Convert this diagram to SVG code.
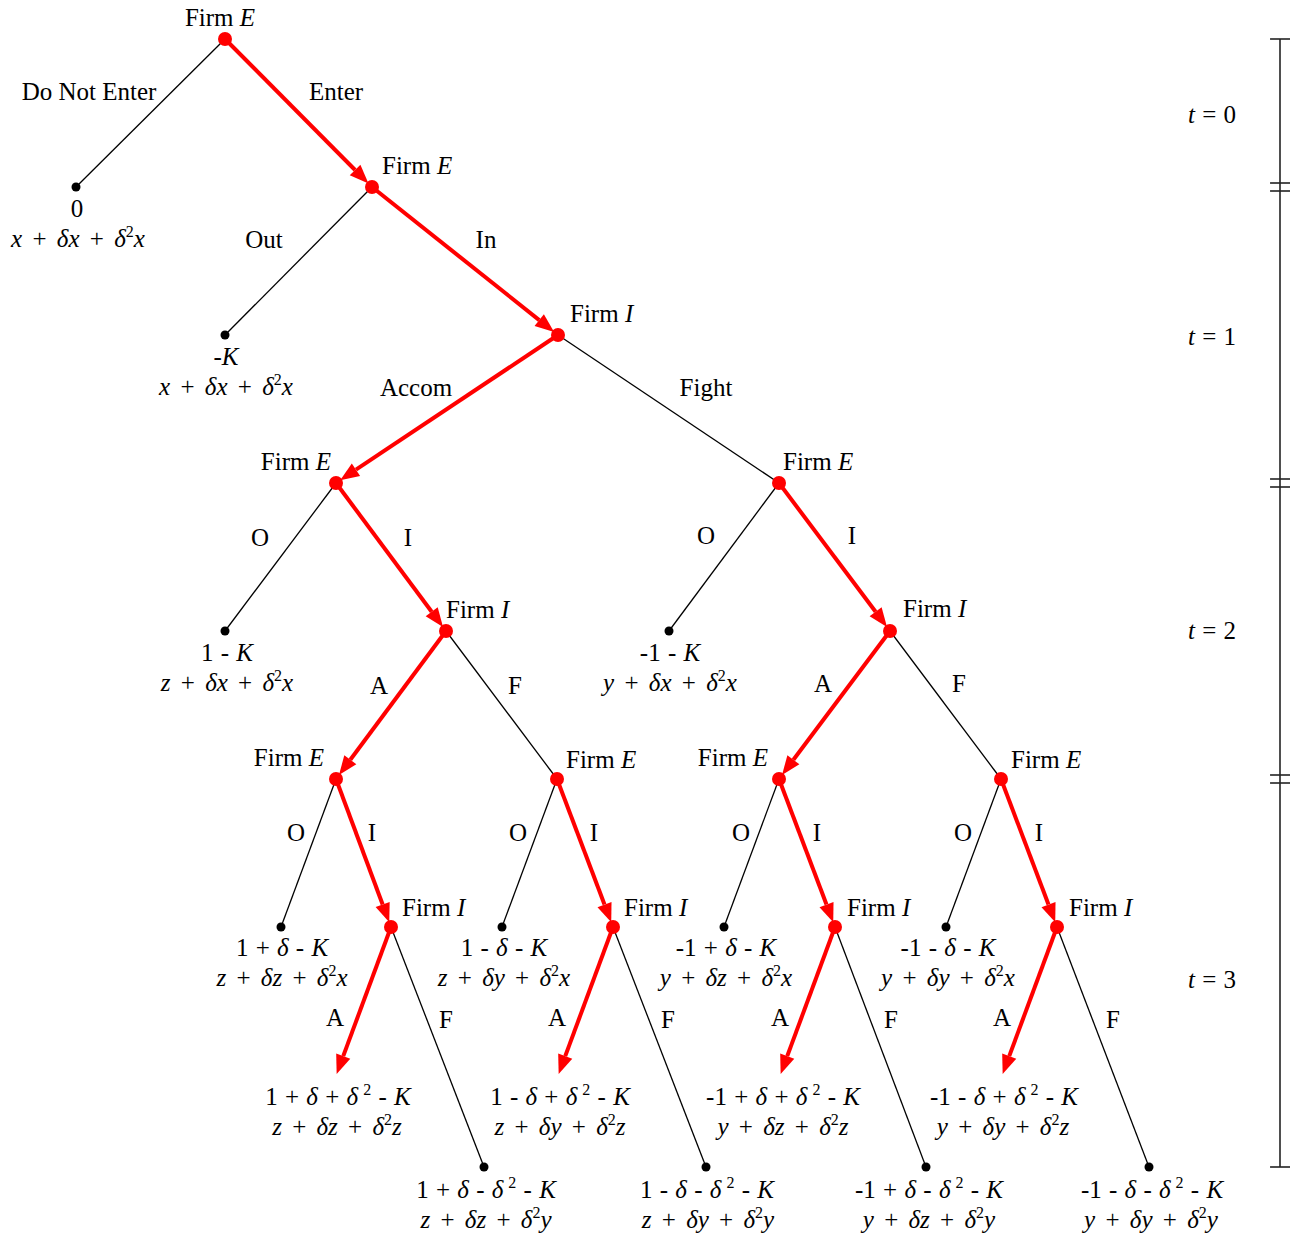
<svg xmlns="http://www.w3.org/2000/svg" width="1297" height="1235" viewBox="0 0 1297 1235">
<style>
text{font-family:"Liberation Serif","DejaVu Serif",serif;font-size:25px;fill:#000}
.m{text-anchor:middle}
.e{text-anchor:end}
.i{font-style:italic}
.s{font-size:16px}
.p1{word-spacing:1px}
.p2{word-spacing:4px}
.red{stroke:#ff0000;stroke-width:4;fill:none}
.blk{stroke:#000;stroke-width:1.3;fill:none}
.rn{fill:#ff0000}
.bn{fill:#000}
.tl{stroke:#222;stroke-width:1.6;fill:none}
</style>
<defs>
<marker id="ah" markerUnits="userSpaceOnUse" markerWidth="20" markerHeight="16" refX="0" refY="7.5" orient="auto" overflow="visible">
<path d="M0,0 L19,7.5 L0,15 z" fill="#ff0000"/>
</marker>
</defs>
<rect width="1297" height="1235" fill="#fff"/>
<g id="connectors">
<line class="blk" x1="225" y1="39" x2="76" y2="187"/>
<line class="blk" x1="372" y1="187" x2="225" y2="335"/>
<line class="blk" x1="558" y1="335" x2="779" y2="483"/>
<line class="blk" x1="336" y1="483" x2="225" y2="631"/>
<line class="blk" x1="779" y1="483" x2="669" y2="631"/>
<line class="blk" x1="446" y1="631" x2="557" y2="779"/>
<line class="blk" x1="890" y1="631" x2="1001" y2="779"/>
<line class="blk" x1="336" y1="779" x2="281" y2="927"/>
<line class="blk" x1="557" y1="779" x2="502" y2="927"/>
<line class="blk" x1="779" y1="779" x2="724" y2="927"/>
<line class="blk" x1="1001" y1="779" x2="946" y2="927"/>
<line class="blk" x1="391" y1="927" x2="484" y2="1167"/>
<line class="blk" x1="613" y1="927" x2="706" y2="1167"/>
<line class="blk" x1="835" y1="927" x2="926" y2="1167"/>
<line class="blk" x1="1057" y1="927" x2="1149" y2="1167"/>
<line class="red" marker-end="url(#ah)" x1="225" y1="39" x2="355.09" y2="169.97"/>
<line class="red" marker-end="url(#ah)" x1="372" y1="187" x2="539.22" y2="320.06"/>
<line class="red" marker-end="url(#ah)" x1="558" y1="335" x2="355.97" y2="469.69"/>
<line class="red" marker-end="url(#ah)" x1="336" y1="483" x2="431.68" y2="611.74"/>
<line class="red" marker-end="url(#ah)" x1="779" y1="483" x2="875.6" y2="611.8"/>
<line class="red" marker-end="url(#ah)" x1="446" y1="631" x2="350.32" y2="759.74"/>
<line class="red" marker-end="url(#ah)" x1="890" y1="631" x2="793.4" y2="759.8"/>
<line class="red" marker-end="url(#ah)" x1="336" y1="779" x2="382.64" y2="904.5"/>
<line class="red" marker-end="url(#ah)" x1="557" y1="779" x2="604.51" y2="904.55"/>
<line class="red" marker-end="url(#ah)" x1="779" y1="779" x2="826.51" y2="904.55"/>
<line class="red" marker-end="url(#ah)" x1="1001" y1="779" x2="1048.51" y2="904.55"/>
<line class="red" marker-end="url(#ah)" x1="391" y1="927" x2="343.24" y2="1056.12"/>
<line class="red" marker-end="url(#ah)" x1="613" y1="927" x2="565.24" y2="1056.12"/>
<line class="red" marker-end="url(#ah)" x1="835" y1="927" x2="787.24" y2="1056.12"/>
<line class="red" marker-end="url(#ah)" x1="1057" y1="927" x2="1009.24" y2="1056.12"/>
</g>
<g id="edge-labels">
<text class="m" x="89" y="100">Do Not Enter</text>
<text class="m" x="336" y="100">Enter</text>
<text class="m" x="264" y="248">Out</text>
<text class="m" x="486" y="248">In</text>
<text class="m" x="416" y="396">Accom</text>
<text class="m" x="706" y="396">Fight</text>
<text class="m" x="260" y="546">O</text>
<text class="m" x="408" y="546">I</text>
<text class="m" x="706" y="544">O</text>
<text class="m" x="852" y="544">I</text>
<text class="m" x="379" y="694">A</text>
<text class="m" x="515" y="694">F</text>
<text class="m" x="823" y="692">A</text>
<text class="m" x="959" y="692">F</text>
<text class="m" x="296" y="841">O</text>
<text class="m" x="372" y="841">I</text>
<text class="m" x="518" y="841">O</text>
<text class="m" x="594" y="841">I</text>
<text class="m" x="741" y="841">O</text>
<text class="m" x="817" y="841">I</text>
<text class="m" x="963" y="841">O</text>
<text class="m" x="1039" y="841">I</text>
<text class="m" x="335" y="1026">A</text>
<text class="m" x="446" y="1028">F</text>
<text class="m" x="557" y="1026">A</text>
<text class="m" x="668" y="1028">F</text>
<text class="m" x="780" y="1026">A</text>
<text class="m" x="891" y="1028">F</text>
<text class="m" x="1002" y="1026">A</text>
<text class="m" x="1113" y="1028">F</text>
</g>
<g id="n0"><circle class="rn" cx="225" cy="39" r="7"/><text class="m" x="220" y="26">Firm <tspan class="i">E</tspan></text></g>
<g id="n1"><circle class="rn" cx="372" cy="187" r="7"/><text x="382" y="174">Firm <tspan class="i">E</tspan></text></g>
<g id="n2"><circle class="rn" cx="558" cy="335" r="7"/><text x="570" y="322">Firm <tspan class="i">I</tspan></text></g>
<g id="n3"><circle class="rn" cx="336" cy="483" r="7"/><text class="e" x="331" y="470">Firm <tspan class="i">E</tspan></text></g>
<g id="n4"><circle class="rn" cx="779" cy="483" r="7"/><text x="783" y="470">Firm <tspan class="i">E</tspan></text></g>
<g id="n5"><circle class="rn" cx="446" cy="631" r="7"/><text x="446" y="618">Firm <tspan class="i">I</tspan></text></g>
<g id="n6"><circle class="rn" cx="890" cy="631" r="7"/><text x="903" y="617">Firm <tspan class="i">I</tspan></text></g>
<g id="n7"><circle class="rn" cx="336" cy="779" r="7"/><text class="e" x="324" y="766">Firm <tspan class="i">E</tspan></text></g>
<g id="n8"><circle class="rn" cx="557" cy="779" r="7"/><text x="566" y="768">Firm <tspan class="i">E</tspan></text></g>
<g id="n9"><circle class="rn" cx="779" cy="779" r="7"/><text class="e" x="768" y="766">Firm <tspan class="i">E</tspan></text></g>
<g id="n10"><circle class="rn" cx="1001" cy="779" r="7"/><text x="1011" y="768">Firm <tspan class="i">E</tspan></text></g>
<g id="n11"><circle class="rn" cx="391" cy="927" r="7"/><text x="402" y="916">Firm <tspan class="i">I</tspan></text></g>
<g id="n12"><circle class="rn" cx="613" cy="927" r="7"/><text x="624" y="916">Firm <tspan class="i">I</tspan></text></g>
<g id="n13"><circle class="rn" cx="835" cy="927" r="7"/><text x="847" y="916">Firm <tspan class="i">I</tspan></text></g>
<g id="n14"><circle class="rn" cx="1057" cy="927" r="7"/><text x="1069" y="916">Firm <tspan class="i">I</tspan></text></g>
<g id="l1"><circle class="bn" cx="76" cy="187" r="4.5"/><text class="m" x="77" y="217">0</text><text class="m p2" x="78" y="247"><tspan class="i">x</tspan> + <tspan class="i">δx</tspan> + <tspan class="i">δ</tspan><tspan class="s" dy="-10">2</tspan><tspan class="i" dy="10">x</tspan></text></g>
<g id="l2"><circle class="bn" cx="225" cy="335" r="4.5"/><text class="m" x="226" y="365">-<tspan class="i">K</tspan></text><text class="m p2" x="226" y="395"><tspan class="i">x</tspan> + <tspan class="i">δx</tspan> + <tspan class="i">δ</tspan><tspan class="s" dy="-10">2</tspan><tspan class="i" dy="10">x</tspan></text></g>
<g id="l3"><circle class="bn" cx="225" cy="631" r="4.5"/><text class="m p1" x="227" y="661">1 - <tspan class="i">K</tspan></text><text class="m p2" x="227" y="691"><tspan class="i">z</tspan> + <tspan class="i">δx</tspan> + <tspan class="i">δ</tspan><tspan class="s" dy="-10">2</tspan><tspan class="i" dy="10">x</tspan></text></g>
<g id="l4"><circle class="bn" cx="669" cy="631" r="4.5"/><text class="m p1" x="670" y="661">-1 - <tspan class="i">K</tspan></text><text class="m p2" x="670" y="691"><tspan class="i">y</tspan> + <tspan class="i">δx</tspan> + <tspan class="i">δ</tspan><tspan class="s" dy="-10">2</tspan><tspan class="i" dy="10">x</tspan></text></g>
<g id="l5"><circle class="bn" cx="281" cy="927" r="4.5"/><text class="m p1" x="282" y="956">1 + <tspan class="i">δ</tspan> - <tspan class="i">K</tspan></text><text class="m p2" x="282" y="986"><tspan class="i">z</tspan> + <tspan class="i">δz</tspan> + <tspan class="i">δ</tspan><tspan class="s" dy="-10">2</tspan><tspan class="i" dy="10">x</tspan></text></g>
<g id="l6"><circle class="bn" cx="502" cy="927" r="4.5"/><text class="m p1" x="504" y="956">1 - <tspan class="i">δ</tspan> - <tspan class="i">K</tspan></text><text class="m p2" x="504" y="986"><tspan class="i">z</tspan> + <tspan class="i">δy</tspan> + <tspan class="i">δ</tspan><tspan class="s" dy="-10">2</tspan><tspan class="i" dy="10">x</tspan></text></g>
<g id="l7"><circle class="bn" cx="724" cy="927" r="4.5"/><text class="m p1" x="726" y="956">-1 + <tspan class="i">δ</tspan> - <tspan class="i">K</tspan></text><text class="m p2" x="726" y="986"><tspan class="i">y</tspan> + <tspan class="i">δz</tspan> + <tspan class="i">δ</tspan><tspan class="s" dy="-10">2</tspan><tspan class="i" dy="10">x</tspan></text></g>
<g id="l8"><circle class="bn" cx="946" cy="927" r="4.5"/><text class="m p1" x="948" y="956">-1 - <tspan class="i">δ</tspan> -  <tspan class="i">K</tspan></text><text class="m p2" x="948" y="986"><tspan class="i">y</tspan> + <tspan class="i">δy</tspan> + <tspan class="i">δ</tspan><tspan class="s" dy="-10">2</tspan><tspan class="i" dy="10">x</tspan></text></g>
<g id="a1"><text class="m p1" x="338" y="1105">1 + <tspan class="i">δ</tspan> + <tspan class="i">δ</tspan><tspan class="s" dy="-10"> 2</tspan><tspan dy="10"> - </tspan><tspan class="i">K</tspan></text><text class="m p2" x="337" y="1135"><tspan class="i">z</tspan> + <tspan class="i">δz</tspan> + <tspan class="i">δ</tspan><tspan class="s" dy="-10">2</tspan><tspan class="i" dy="10">z</tspan></text></g>
<g id="a2"><text class="m p1" x="560" y="1105">1 - <tspan class="i">δ</tspan> + <tspan class="i">δ</tspan><tspan class="s" dy="-10"> 2</tspan><tspan dy="10"> - </tspan><tspan class="i">K</tspan></text><text class="m p2" x="560" y="1135"><tspan class="i">z</tspan> + <tspan class="i">δy</tspan> + <tspan class="i">δ</tspan><tspan class="s" dy="-10">2</tspan><tspan class="i" dy="10">z</tspan></text></g>
<g id="a3"><text class="m p1" x="783" y="1105">-1 + <tspan class="i">δ</tspan> + <tspan class="i">δ</tspan><tspan class="s" dy="-10"> 2</tspan><tspan dy="10"> - </tspan><tspan class="i">K</tspan></text><text class="m p2" x="783" y="1135"><tspan class="i">y</tspan> + <tspan class="i">δz</tspan> + <tspan class="i">δ</tspan><tspan class="s" dy="-10">2</tspan><tspan class="i" dy="10">z</tspan></text></g>
<g id="a4"><text class="m p1" x="1004" y="1105">-1 - <tspan class="i">δ</tspan> + <tspan class="i">δ</tspan><tspan class="s" dy="-10"> 2</tspan><tspan dy="10"> - </tspan><tspan class="i">K</tspan></text><text class="m p2" x="1003" y="1135"><tspan class="i">y</tspan> + <tspan class="i">δy</tspan> + <tspan class="i">δ</tspan><tspan class="s" dy="-10">2</tspan><tspan class="i" dy="10">z</tspan></text></g>
<g id="l9"><circle class="bn" cx="484" cy="1167" r="4.5"/><text class="m p1" x="486" y="1198">1 + <tspan class="i">δ</tspan> - <tspan class="i">δ</tspan><tspan class="s" dy="-10"> 2</tspan><tspan dy="10"> - </tspan><tspan class="i">K</tspan></text><text class="m p2" x="486" y="1228"><tspan class="i">z</tspan> + <tspan class="i">δz</tspan> + <tspan class="i">δ</tspan><tspan class="s" dy="-10">2</tspan><tspan class="i" dy="10">y</tspan></text></g>
<g id="l10"><circle class="bn" cx="706" cy="1167" r="4.5"/><text class="m p1" x="707" y="1198">1 - <tspan class="i">δ</tspan> - <tspan class="i">δ</tspan><tspan class="s" dy="-10"> 2</tspan><tspan dy="10"> - </tspan><tspan class="i">K</tspan></text><text class="m p2" x="708" y="1228"><tspan class="i">z</tspan> + <tspan class="i">δy</tspan> + <tspan class="i">δ</tspan><tspan class="s" dy="-10">2</tspan><tspan class="i" dy="10">y</tspan></text></g>
<g id="l11"><circle class="bn" cx="926" cy="1167" r="4.5"/><text class="m p1" x="929" y="1198">-1 + <tspan class="i">δ</tspan> - <tspan class="i">δ</tspan><tspan class="s" dy="-10"> 2</tspan><tspan dy="10"> - </tspan><tspan class="i">K</tspan></text><text class="m p2" x="929" y="1228"><tspan class="i">y</tspan> + <tspan class="i">δz</tspan> + <tspan class="i">δ</tspan><tspan class="s" dy="-10">2</tspan><tspan class="i" dy="10">y</tspan></text></g>
<g id="l12"><circle class="bn" cx="1149" cy="1167" r="4.5"/><text class="m p1" x="1152" y="1198">-1 - <tspan class="i">δ</tspan> - <tspan class="i">δ</tspan><tspan class="s" dy="-10"> 2</tspan><tspan dy="10"> - </tspan><tspan class="i">K</tspan></text><text class="m p2" x="1151" y="1228"><tspan class="i">y</tspan> + <tspan class="i">δy</tspan> + <tspan class="i">δ</tspan><tspan class="s" dy="-10">2</tspan><tspan class="i" dy="10">y</tspan></text></g>
<g id="timeline">
<line class="tl" x1="1280" y1="39" x2="1280" y2="1167"/>
<line class="tl" x1="1270" y1="39" x2="1290" y2="39"/>
<line class="tl" x1="1270" y1="183" x2="1290" y2="183"/>
<line class="tl" x1="1270" y1="191" x2="1290" y2="191"/>
<line class="tl" x1="1270" y1="479" x2="1290" y2="479"/>
<line class="tl" x1="1270" y1="487" x2="1290" y2="487"/>
<line class="tl" x1="1270" y1="775" x2="1290" y2="775"/>
<line class="tl" x1="1270" y1="783" x2="1290" y2="783"/>
<line class="tl" x1="1270" y1="1167" x2="1290" y2="1167"/>
<text class="m p1" x="1212" y="123"><tspan class="i">t</tspan> = 0</text>
<text class="m p1" x="1212" y="345"><tspan class="i">t</tspan> = 1</text>
<text class="m p1" x="1212" y="639"><tspan class="i">t</tspan> = 2</text>
<text class="m p1" x="1212" y="988"><tspan class="i">t</tspan> = 3</text>
</g>
</svg>
